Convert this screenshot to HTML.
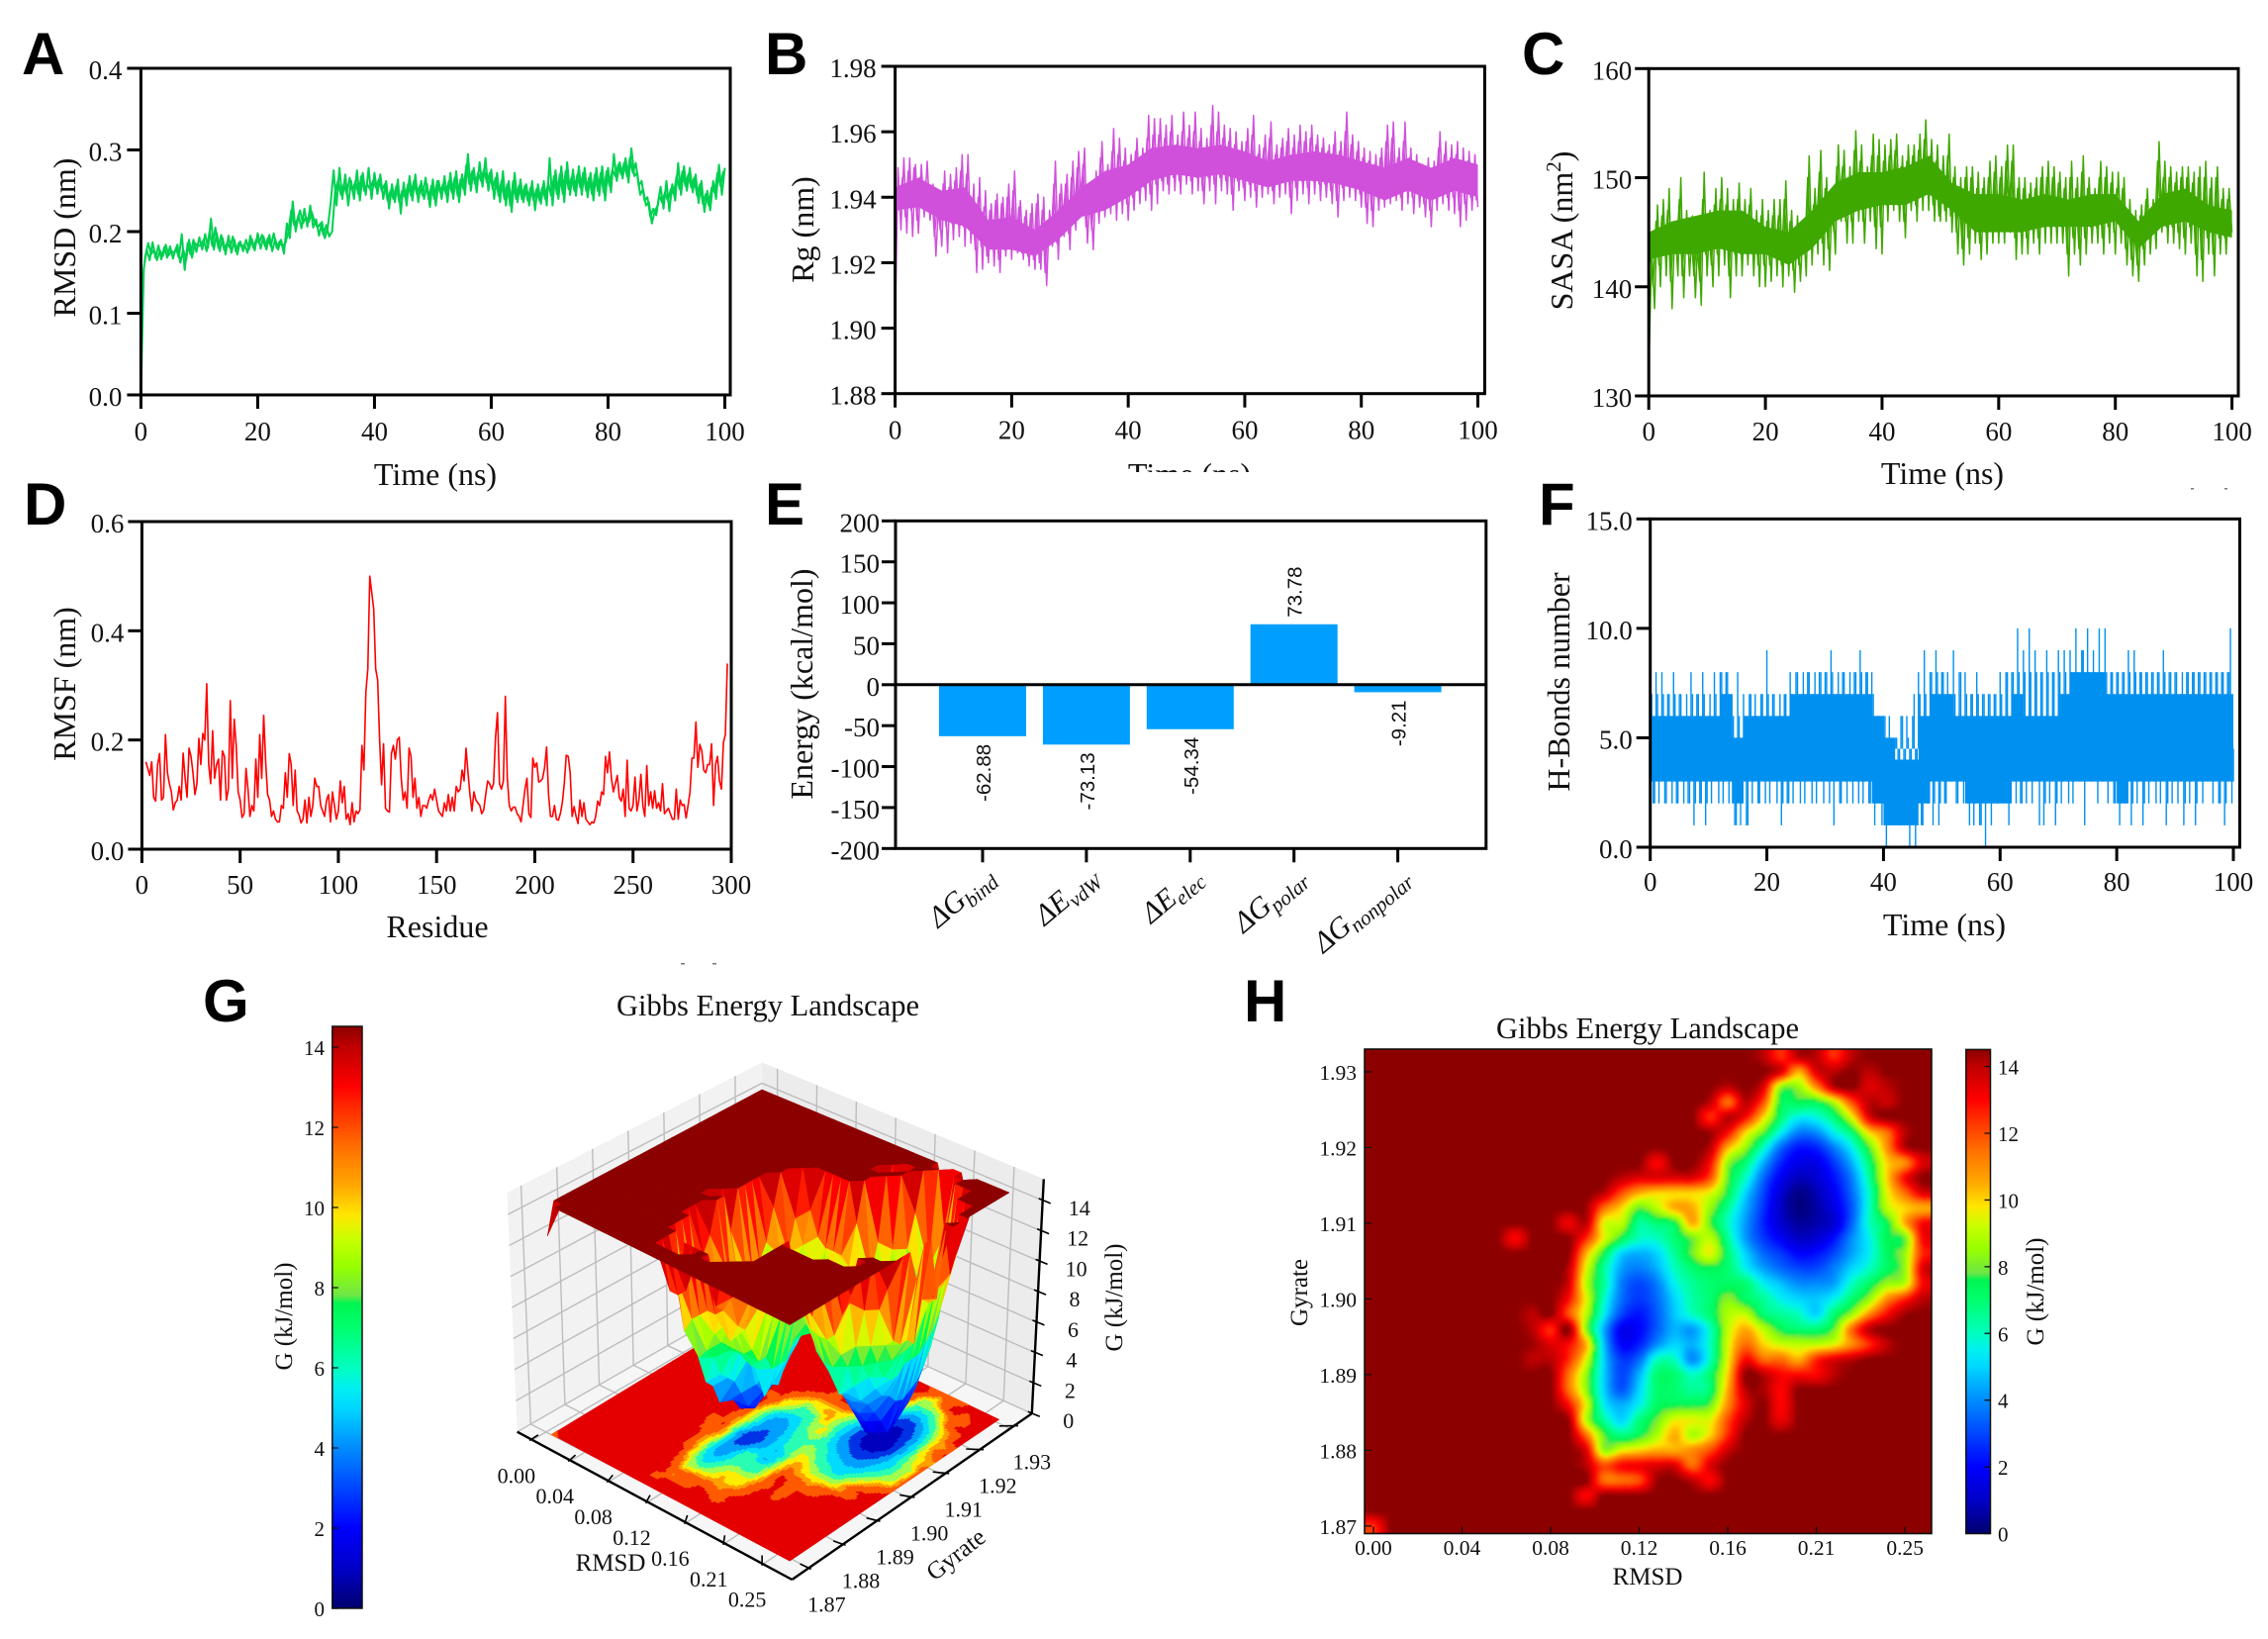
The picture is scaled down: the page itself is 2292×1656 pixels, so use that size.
<!DOCTYPE html>
<html lang="en">
<head>
<meta charset="utf-8">
<title>Molecular dynamics analysis figure</title>
<style>
html,body{margin:0;padding:0;background:#fff;}
svg{display:block;}
text{font-family:"Liberation Serif",serif;fill:#111;}
.letter{font-family:"Liberation Sans",sans-serif;font-weight:700;font-size:60px;fill:#000;}
.title{font-size:32px;text-anchor:middle;}
.mid{font-size:25px;text-anchor:middle;}
.head{font-size:30.5px;text-anchor:middle;}
</style>
</head>
<body>
<svg id="figure" width="2292" height="1656" viewBox="0 0 2292 1656">
  <defs>
    <clipPath id="clip-b-title"><rect x="1100" y="450" width="220" height="27"/></clipPath>
    <clipPath id="clip-heat"><rect x="1379" y="1060" width="573" height="489.5"/></clipPath>
    <filter id="soften" x="-2%" y="-2%" width="104%" height="104%" color-interpolation-filters="sRGB"><feGaussianBlur stdDeviation="1.3"/></filter>
    <linearGradient id="jet-gradient" x1="0" y1="1" x2="0" y2="0"></linearGradient>
  </defs>
  <rect width="2292" height="1656" fill="#fff"/>

  <g id="panel-a">
    <text class="letter" x="22" y="75">A</text>
    <text class="title" x="440" y="490">Time (ns)</text>
    <text class="title" x="76" y="240" transform="rotate(-90 76 240)">RMSD (nm)</text>
  </g>
  <g id="panel-b">
    <text class="letter" x="773" y="75">B</text>
    <g clip-path="url(#clip-b-title)"><text class="title" x="1202" y="490">Time (ns)</text></g>
    <text class="title" x="822" y="232" transform="rotate(-90 822 232)">Rg (nm)</text>
  </g>
  <g id="panel-c">
    <text class="letter" x="1538" y="75">C</text>
    <text class="title" x="1963" y="489">Time (ns)</text>
    <text class="title" x="1589" y="233" transform="rotate(-90 1589 233)">SASA (nm<tspan font-size="21" dy="-12">2</tspan><tspan dy="12">)</tspan></text>
  </g>
  <g id="panel-d">
    <text class="letter" x="24" y="530">D</text>
    <text class="title" x="442" y="947">Residue</text>
    <text class="title" x="76" y="691" transform="rotate(-90 76 691)">RMSF (nm)</text>
  </g>
  <g id="panel-e">
    <text class="letter" x="773" y="530">E</text>
    <text class="title" x="821" y="691" transform="rotate(-90 821 691)">Energy (kcal/mol)</text>
  </g>
  <g id="panel-f">
    <text class="letter" x="1555" y="530">F</text>
    <text class="title" x="1965" y="945">Time (ns)</text>
    <text class="title" x="1586" y="689" transform="rotate(-90 1586 689)">H-Bonds number</text>
  </g>
  <g id="panel-g">
    <text class="letter" x="205" y="1032">G</text>
    <text class="head" x="776" y="1026">Gibbs Energy Landscape</text>
    <text class="mid" x="295" y="1330" transform="rotate(-90 295 1330)">G (kJ/mol)</text>
  </g>
  <g id="panel-h">
    <text class="letter" x="1257" y="1032">H</text>
    <text class="head" x="1665" y="1049">Gibbs Energy Landscape</text>
    <text class="mid" x="1665" y="1601">RMSD</text>
    <text class="mid" x="1321" y="1306" transform="rotate(-90 1321 1306)">Gyrate</text>
    <text class="mid" x="2065" y="1305" transform="rotate(-90 2065 1305)">G (kJ/mol)</text>
  </g>
  <rect x="2214" y="493" width="3" height="1.5" fill="#777"/>
  <rect x="2248" y="493" width="3" height="1.5" fill="#777"/>
  <rect x="688" y="973" width="4" height="1.5" fill="#777"/>
  <rect x="720" y="973" width="4" height="1.5" fill="#777"/>
</svg>

<script>
/* ---------- data ---------- */
const timeTicks = [0, 20, 40, 60, 80, 100];
const sampleStepNs = 0.5;
const fineOffsetNs = 0.25;
const coreStepNs = 4;
const hbondCoreStepNs = 2;

const rmsdTicks = [0, 0.1, 0.2, 0.3, 0.4];
const rmsdTickLabels = ['0.0', '0.1', '0.2', '0.3', '0.4'];
const rmsdValues = [
0,.155,.178,.165,.187,.168,.183,.166,.181,.168,
.182,.167,.180,.168,.197,.153,.186,.172,.190,.175,
.193,.178,.197,.180,.216,.178,.198,.176,.192,.172,
.195,.174,.190,.172,.188,.176,.190,.178,.191,.177,
.198,.179,.194,.178,.196,.176,.191,.178,.190,.173,
.210,.192,.237,.200,.220,.204,.228,.206,.232,.205,
.215,.195,.212,.192,.205,.235,.275,.232,.278,.240,
.270,.232,.262,.240,.275,.238,.272,.245,.278,.240,
.272,.246,.270,.240,.262,.228,.258,.236,.264,.222,
.260,.232,.268,.238,.270,.236,.262,.240,.258,.230,
.264,.232,.262,.240,.268,.236,.272,.240,.274,.236,
.270,.245,.295,.250,.278,.248,.285,.255,.290,.250,
.276,.240,.272,.236,.274,.232,.262,.224,.272,.236,
.264,.236,.258,.232,.262,.226,.258,.234,.262,.232,
.290,.232,.275,.240,.280,.236,.285,.245,.276,.244,
.280,.245,.278,.242,.272,.238,.278,.244,.280,.238,
.278,.248,.295,.262,.285,.265,.290,.260,.302,.268,
.272,.245,.252,.232,.236,.210,.225,.232,.255,.228,
.262,.225,.258,.238,.284,.245,.280,.250,.278,.248,
.270,.235,.262,.224,.250,.226,.262,.240,.282,.245,
.278];
const rmsdFineValues = [
.140,.170,.186,.172,.178,.165,.177,.170,.184,.171,
.176,.174,.184,.162,.178,.165,.190,.168,.186,.182,
.184,.190,.176,.200,.182,.205,.180,.196,.178,.186,
.180,.194,.176,.186,.182,.184,.174,.195,.180,.190,
.186,.196,.182,.192,.182,.198,.180,.188,.182,.186,
.200,.226,.208,.214,.226,.210,.218,.212,.224,.212,
.205,.210,.196,.208,.194,.200,.248,.262,.245,.258,
.246,.266,.250,.262,.246,.268,.250,.258,.252,.262,
.254,.264,.250,.258,.238,.250,.240,.256,.236,.250,
.242,.258,.244,.262,.246,.256,.244,.266,.240,.256,
.240,.262,.248,.258,.246,.262,.248,.266,.244,.264,
.252,.282,.258,.274,.258,.272,.262,.276,.260,.272,
.252,.266,.244,.262,.240,.258,.232,.262,.240,.256,
.240,.256,.238,.254,.238,.252,.238,.254,.240,.260,
.244,.268,.246,.270,.246,.274,.252,.266,.250,.270,
.254,.272,.250,.266,.246,.270,.250,.272,.248,.274,
.256,.276,.268,.282,.270,.284,.268,.290,.272,.284,
.256,.262,.238,.242,.218,.228,.220,.244,.236,.248,
.238,.252,.246,.268,.252,.274,.256,.270,.254,.266,
.244,.258,.234,.246,.232,.254,.248,.272,.256,.274];

const rgTicks = [1.88, 1.90, 1.92, 1.94, 1.96, 1.98];
const rgTickLabels = ['1.88', '1.90', '1.92', '1.94', '1.96', '1.98'];
const rgCoreTop = [1.943,1.946,1.942,1.943,1.933,1.934,1.930,1.936,1.943,1.948,1.950,1.955,1.956,1.955,1.956,1.954,1.951,1.953,1.954,1.953,1.951,1.949,1.952,1.949,1.952,1.950];
const rgCoreBottom = [1.936,1.937,1.933,1.931,1.924,1.924,1.922,1.927,1.934,1.936,1.940,1.945,1.947,1.946,1.947,1.945,1.943,1.945,1.945,1.944,1.942,1.939,1.942,1.939,1.942,1.940];
const rgValues = [
1.902,1.949,1.930,1.952,1.929,1.952,1.928,1.950,1.929,1.950,
1.934,1.951,1.933,1.944,1.922,1.940,1.925,1.948,1.923,1.947,
1.927,1.949,1.928,1.953,1.925,1.953,1.926,1.944,1.917,1.946,
1.918,1.942,1.920,1.938,1.919,1.941,1.917,1.940,1.922,1.944,
1.921,1.948,1.923,1.939,1.921,1.936,1.919,1.938,1.918,1.941,
1.918,1.940,1.913,1.936,1.925,1.951,1.921,1.944,1.928,1.947,
1.924,1.951,1.930,1.954,1.935,1.955,1.926,1.944,1.924,1.948,
1.932,1.957,1.934,1.950,1.935,1.961,1.933,1.958,1.935,1.955,
1.933,1.953,1.936,1.958,1.938,1.955,1.939,1.965,1.936,1.964,
1.938,1.964,1.942,1.962,1.941,1.965,1.942,1.959,1.941,1.966,
1.944,1.962,1.941,1.966,1.942,1.961,1.938,1.958,1.942,1.968,
1.938,1.966,1.942,1.962,1.941,1.961,1.936,1.960,1.942,1.957,
1.939,1.961,1.940,1.965,1.937,1.956,1.940,1.959,1.941,1.963,
1.938,1.956,1.940,1.958,1.941,1.961,1.935,1.959,1.939,1.962,
1.941,1.960,1.938,1.962,1.941,1.959,1.939,1.958,1.940,1.956,
1.938,1.960,1.934,1.957,1.939,1.966,1.940,1.959,1.939,1.957,
1.937,1.955,1.932,1.954,1.931,1.953,1.936,1.955,1.937,1.962,
1.938,1.963,1.939,1.955,1.936,1.963,1.938,1.955,1.935,1.953,
1.937,1.950,1.934,1.952,1.931,1.951,1.936,1.960,1.938,1.957,
1.936,1.956,1.935,1.957,1.931,1.955,1.933,1.954,1.936,1.953,
1.937];
const rgFineValues = [
1.938,1.936,1.946,1.934,1.948,1.936,1.949,1.933,1.946,1.937,
1.945,1.938,1.943,1.928,1.938,1.930,1.944,1.931,1.943,1.932,
1.945,1.934,1.948,1.931,1.947,1.930,1.939,1.924,1.940,1.925,
1.937,1.922,1.936,1.925,1.939,1.921,1.938,1.924,1.940,1.926,
1.942,1.925,1.937,1.923,1.934,1.922,1.935,1.921,1.938,1.920,
1.936,1.917,1.933,1.927,1.944,1.926,1.941,1.931,1.944,1.929,
1.946,1.933,1.949,1.937,1.950,1.931,1.941,1.930,1.944,1.936,
1.952,1.938,1.948,1.939,1.954,1.938,1.953,1.939,1.951,1.938,
1.950,1.940,1.954,1.942,1.951,1.943,1.958,1.941,1.959,1.944,
1.959,1.945,1.958,1.944,1.960,1.946,1.956,1.945,1.960,1.947,
1.958,1.945,1.960,1.946,1.957,1.942,1.955,1.946,1.962,1.944,
1.960,1.946,1.958,1.945,1.957,1.941,1.956,1.945,1.954,1.943,
1.957,1.944,1.959,1.942,1.953,1.944,1.955,1.945,1.958,1.942,
1.953,1.944,1.955,1.945,1.957,1.940,1.955,1.943,1.957,1.945,
1.957,1.943,1.958,1.945,1.956,1.944,1.955,1.944,1.954,1.942,
1.956,1.939,1.954,1.943,1.960,1.944,1.956,1.943,1.954,1.941,
1.952,1.937,1.951,1.936,1.950,1.940,1.952,1.941,1.957,1.942,
1.958,1.943,1.952,1.940,1.957,1.942,1.952,1.940,1.950,1.941,
1.948,1.938,1.949,1.936,1.948,1.940,1.955,1.942,1.953,1.940,
1.952,1.940,1.953,1.936,1.951,1.938,1.951,1.940,1.950,1.939];

const sasaTicks = [130, 140, 150, 160];
const sasaTickLabels = ['130', '140', '150', '160'];
const sasaCoreTop = [145,146,146.5,147,147,145.5,145,147,149.5,150.5,150.5,151,152,149.5,148.5,148.5,148,148.5,148,148.5,148.5,146,148.5,149,147.5,147];
const sasaCoreBottom = [142.5,143,143,143.5,143,143,142,143.5,146,147,147.5,147.5,148.5,147,145,145,145,145.5,145.5,145.5,146,143.5,145.5,146,145,144.5];
const sasaValues = [
132,143.5,138,147.5,140,148,141,149,138,146,
141,150,139,147,141,146.5,139,146,138.3,150.5,
141,147,140,149,141,150,142,149,139,148,
141,149.5,141,148,142,149,141,147,140,148,
140,147,140.5,148,141,148,140,149.7,141,147,
139.5,146.5,140.5,146,141,152,142,149,143,152.5,
142,150,141.5,149,143,153,146,152.5,144,151,
144,154.3,146,153,144,151,146,154,143.5,153.5,
143,153,146,153.5,147,154,146,152,144.5,153,
147,153,146,154,147,155.3,147,153.5,146,153,
146,152,146,154,145,151,143,150,142,151,
143,151,144,150.5,142.5,150,143,151.5,144,152,
144,151,144,153,145,153,142.5,150,143,150,
143,149.5,144,150,143,151,144,151.5,144,151,
144,150.5,144,150,141,151.5,143,150,142,152,
143,150,144,149,144,151.5,143,151,144,150.5,
143,150.5,144,150,142,148,141,147,140.5,147.5,
142,149,143,148,143.5,153.3,145,151.5,144,151,
144,150.5,143.5,151,143,151,144,150.5,141,151,
140.5,151.5,143,150,141,151,143,149,143,149,
145];
const sasaFineValues = [
143,140,146,142,146.5,143,147,140.5,145,143,
148,141,146,143,145,141,144.5,140.5,148,143,
145.5,142,147.5,143,148,144,147.5,141,146.5,143,
148,143,146.5,144,147.5,143,146,142,146.5,142,
146,142,146.5,143,146.5,142,148,143,146,141.5,
145.5,142,145,143,150,144,147.5,145,150.5,144,
149,143.5,148,145,151,148,151,146,150,146,
152.5,147.5,151.5,146,150,148,152,145.5,152,145.5,
151.5,147.5,152,148.5,152.5,147.5,151,146,151.5,148,
152,147.5,152.5,148.5,153.5,148.5,152,147.5,151.5,146.5,
150.5,147,152,146.5,150,145,149,143.5,150,144.5,
150,145.5,149,144,149,145,150,145.5,150.5,145.5,
150,145.5,151.5,146.5,151.5,144.5,149,145,149,144.5,
148.5,145.5,149,144.5,150,145.5,150,145.5,150,145.5,
149.5,145.5,149,143,150,144.5,149,143.5,150.5,144.5,
149,145.5,148,145.5,150,144.5,150,145.5,149.5,145,
149,145.5,149,143.5,147,142.5,146,142,146.5,143.5,
148,144.5,147,145,151.5,146.5,150,145.5,150,145.5,
149.5,145,150,144.5,150,145.5,149.5,143,150,142.5,
150,144.5,149,143,150,144.5,148,144.5,148,146];

const residueTicks = [0, 50, 100, 150, 200, 250, 300];
const rmsfTicks = [0, 0.2, 0.4, 0.6];
const rmsfTickLabels = ['0.0', '0.2', '0.4', '0.6'];
const firstResidue = 2;
const rmsfValues = [
.16,.148,.135,.16,.095,.088,.155,.175,.09,.095,
.21,.14,.12,.105,.072,.085,.09,.115,.09,.176,
.13,.095,.185,.17,.14,.10,.12,.203,.155,.212,
.20,.303,.155,.12,.217,.13,.155,.165,.09,.18,
.17,.09,.11,.272,.13,.238,.19,.105,.09,.058,
.065,.148,.11,.06,.08,.07,.165,.095,.21,.13,
.245,.16,.10,.09,.06,.07,.055,.05,.05,.08,
.075,.14,.095,.175,.155,.08,.145,.07,.063,.048,
.055,.09,.048,.095,.06,.08,.13,.115,.115,.08,
.07,.06,.09,.1,.05,.105,.08,.055,.07,.125,
.085,.115,.055,.065,.045,.085,.05,.07,.065,.072,
.19,.145,.287,.33,.50,.47,.44,.33,.31,.2,
.118,.193,.075,.07,.068,.175,.19,.165,.2,.205,
.13,.09,.105,.075,.185,.17,.095,.13,.075,.095,
.06,.08,.08,.075,.09,.1,.09,.11,.09,.07,
.065,.06,.085,.07,.1,.07,.095,.07,.115,.105,
.11,.145,.125,.185,.14,.1,.07,.105,.09,.085,
.08,.065,.072,.1,.125,.12,.11,.12,.205,.25,
.12,.11,.125,.28,.13,.08,.07,.077,.077,.065,
.06,.05,.08,.11,.13,.065,.058,.167,.15,.158,
.123,.125,.13,.15,.187,.10,.06,.06,.08,.055,
.053,.065,.085,.12,.172,.17,.14,.06,.078,.06,
.047,.09,.06,.085,.055,.05,.045,.05,.048,.06,
.088,.08,.105,.1,.17,.14,.178,.13,.105,.12,
.135,.095,.088,.11,.06,.163,.075,.07,.08,.132,
.07,.09,.137,.08,.06,.153,.08,.105,.075,.107,
.075,.085,.07,.12,.065,.07,.075,.065,.055,.055,
.11,.055,.09,.08,.082,.057,.08,.105,.167,.167,
.233,.15,.192,.18,.145,.14,.155,.155,.193,.08,
.155,.17,.125,.11,.195,.21,.34];

const energyTicks = [-200, -150, -100, -50, 0, 50, 100, 150, 200];
const energyValues = [-62.88, -73.13, -54.34, 73.78, -9.21];
const energySymbols = ['G', 'E', 'E', 'G', 'G'];
const energySubscripts = ['bind', 'vdW', 'elec', 'polar', 'nonpolar'];

const hbondTicks = [0, 5, 10, 15];
const hbondTickLabels = ['0.0', '5.0', '10.0', '15.0'];
const hbondBandCentre = 4.5;
const hbondCoreHigh = [6,6,6,6,6,6,7,5,6,6,6,6,7,7,7,7,7,7,7,6,5,4,4,6,7,7,6,6,6,6,6,7,6,6,6,7,8,8,8,7,7,7,7,7,7,7,7,7,7,7,7];
const hbondCoreLow = [3,3,3,3,3,3,3,2,3,3,3,3,3,3,3,3,3,3,3,2,1,1,1,2,3,3,3,2,2,2,2,3,3,3,3,3,3,3,3,3,2,3,3,3,3,3,3,3,3,3,3];
const hbondValues = [
7,2,8,2,8,2,7,3,8,2,
7,3,6,2,8,1,7,2,8,1,
6,2,8,3,8,2,8,2,7,1,
8,1,7,1,7,2,7,2,7,3,
9,2,7,3,6,1,7,2,8,2,
8,3,7,2,8,3,7,2,8,3,
8,3,9,1,7,2,8,3,7,3,
8,3,9,2,8,2,8,1,6,2,
6,0,6,1,5,2,6,2,6,0,
6,0,8,1,9,2,8,1,9,1,
8,2,8,3,9,2,8,3,8,2,
7,1,8,1,7,0,7,1,7,2,
8,2,8,1,8,3,10,2,9,2,
10,2,9,3,8,1,9,2,8,1,
9,2,9,3,9,2,10,3,9,1,
10,3,9,3,10,3,10,2,8,2,
8,1,8,2,9,1,9,2,8,1,
8,2,8,3,8,2,9,1,8,2,
8,2,7,1,8,2,8,1,8,3,
8,3,8,2,8,2,8,1,8,10,
3];
const hbondFineValues = [
7,2,7,3,7,2,7,2,7,2,
7,2,7,2,7,2,7,2,7,2,
7,3,7,2,8,3,8,3,6,1,
6,2,6,1,7,3,6,2,7,2,
7,3,7,2,7,2,7,2,7,3,
8,2,8,3,8,2,8,3,8,2,
8,2,8,3,8,2,8,2,8,2,
8,2,8,3,8,2,7,2,6,1,
6,1,5,1,5,1,6,1,5,1,
7,1,7,1,7,2,8,2,8,2,
8,2,7,3,7,2,8,2,7,1,
7,2,7,1,7,2,7,2,7,2,
7,3,8,2,8,2,8,2,8,3,
8,3,8,1,8,2,8,3,8,2,
8,3,8,2,8,3,8,3,9,3,
8,3,8,2,8,3,8,3,8,2,
8,2,8,3,8,2,8,3,8,2,
8,3,8,2,8,3,8,2,8,3,
8,3,8,2,8,3,8,2,8,2,
8,3,8,3,8,2,8,2,8,2];

/* Gibbs free-energy grid, 32 rows (Gyrate 1.93 side at the top) x 32 columns (RMSD increasing) */
const gibbsGrid = [
[15,15,15,15,15,15,15,15,15,15,15,15,15,15,15,15,15,15,15,15,15,15,14,12.5,14,14,12.5,14,15,15,15,15],
[15,15,15,15,15,15,15,15,15,15,15,15,15,15,15,15,15,15,15,15,15,15,14.5,13.5,10.5,13.5,14,15,14,15,15,15],
[15,15,15,15,15,15,15,15,15,15,15,15,15,15,15,15,15,15,15,15,14,14.5,13.5,8.5,8.5,11,14,15,13.5,14,15,15],
[15,15,15,15,15,15,15,15,15,15,15,15,15,15,15,15,15,15,15,14,11.5,14,12,7.5,7.5,7.5,9,12,14,13.8,15,15],
[15,15,15,15,15,15,15,15,15,15,15,15,15,15,15,15,15,15,14.5,12.5,14,13,10,7,5.5,5.7,7,9.5,13.5,14.5,15,15],
[15,15,15,15,15,15,15,15,15,15,15,15,15,15,15,15,15,15,15,14.3,13,10,8,5.5,3.8,4,5.5,7,10,11.5,14,15],
[15,15,15,15,15,15,15,15,15,15,15,15,15,15,15,15,15,15,15,14,10.5,8.5,6,3.5,2.3,2.5,3.8,5.5,8,11,14,15],
[15,15,15,15,15,15,15,15,15,15,15,15,15,15,15,15,13,15,14.5,13,8.5,7,4.5,2.5,1.6,1.6,2.8,4.5,7,10,11,13.5],
[15,15,15,15,15,15,15,15,15,15,15,15,15,15,14,13.5,13.5,13.5,13.5,12,8,6,3.5,1.8,.9,1.2,2.2,3.8,6.5,10,13,14.5],
[15,15,15,15,15,15,15,15,15,15,15,15,15,14,12,10.5,10,10,10,9.5,7.5,5,3,1.2,.3,.8,1.8,3.5,6,9.5,11.5,13.5],
[15,15,15,15,15,15,15,15,15,15,15,15,14.3,11.5,10,8,9,10.5,10.5,8.5,6.5,4.5,2.7,1,.2,.6,1.5,3.2,6,9,10,10.5],
[15,15,15,15,15,15,15,15,15,15,15,13.2,14,9.5,9,6.5,7,7.5,10.5,8,6,4.2,2.5,1.2,.5,.7,1.2,3.4,6,7.5,10.5,13],
[15,15,15,15,15,15,15,15,13,15,15,14.5,12.5,9.5,7.5,6,6,7,8,9,6.5,4.2,2.8,1.8,1,1.2,2.2,4,5.5,7.5,8,13],
[15,15,15,15,15,15,15,15,15,15,15,14.5,10.5,7.5,5,4.5,5,6.5,8,9.5,7,5,3.5,2.8,2,2.2,3,4.3,5.5,7.3,8.5,12.5],
[15,15,15,15,15,15,15,15,15,15,15,14,9.5,6.5,4.3,3.8,4.5,6,7,7.5,7,5.5,4.3,3.5,3,3,3.8,5,6,7.3,8.5,13.5],
[15,15,15,15,15,15,15,15,15,15,15,13.7,9,6.5,3.8,3,3.8,5.5,6.5,7,7.2,7,5.5,4.7,4,4,4.3,6,7.2,8.5,9,13],
[15,15,15,15,15,15,15,15,15,15,15,13,9.5,6,3.6,2.8,3.5,5,6.3,7,8.2,7.2,6.5,5.5,5,4.8,5.5,7,8.5,11,12.5,14],
[15,15,15,15,15,15,15,15,15,14,14.5,12,9,5.5,3,2.3,3.3,4.8,6,7,8.8,9,7,6.5,6,5,7,8.5,11,13,14.3,15],
[15,15,15,15,15,15,15,15,15,14,12.5,15,8.5,4.5,1.8,2,3.3,4.5,4.2,6,9,10.5,9,7.5,7,7,8,11.5,14,15,15,15],
[15,15,15,15,15,15,15,15,15,14.3,13.5,13,10.5,4.8,2,2.4,4,5,4.5,6,9.3,11.5,10,9.2,9,9,9.5,11,12.5,14,15,15],
[15,15,15,15,15,15,15,15,15,14,14,12.5,9.5,5,2.8,3.5,6,6,4,6,9.5,13,11.5,11.5,10.5,12.5,13.5,14,15,15,15,15],
[15,15,15,15,15,15,15,15,15,15,15,11.5,8.5,5,3,4.5,7,7,6,7,10,14.5,14,13,13,13,14,15,15,15,15,15],
[15,15,15,15,15,15,15,15,15,15,14.5,11.5,8.5,5,3.2,5,7,7,6.5,7,10.5,14,14.2,13,14.5,15,15,15,15,15,15,15],
[15,15,15,15,15,15,15,15,15,15,15,13,9.5,5.5,4.5,5.5,7.2,7.5,7.5,8,11,13.5,14.5,13,14.5,15,15,15,15,15,15,15],
[15,15,15,15,15,15,15,15,15,15,15,14.3,9,6.5,5,6.8,8,9.5,9.5,9.5,12,14,15,13.3,15,15,15,15,15,15,15,15],
[15,15,15,15,15,15,15,15,15,15,15,15,11.5,8,6.8,7.5,8.8,10.5,8.8,10,12.5,14.5,15,15,15,15,15,15,15,15,15,15],
[15,15,15,15,15,15,15,15,15,15,15,15,13.5,8.5,9.5,10,10.5,10.5,11,12,13.8,15,15,15,15,15,15,15,15,15,15,15],
[15,15,15,15,15,15,15,15,15,15,15,15,14,12,13,13.2,13.5,13.5,11.5,13.5,15,15,15,15,15,15,15,15,15,15,15,15],
[15,15,15,15,15,15,15,15,15,15,15,15,15,11.5,11.5,12,14.3,15,14,13,15,15,15,15,15,15,15,15,15,15,15,15],
[15,15,15,15,15,15,15,15,15,15,15,15,13,15,15,15,15,15,15,15,15,15,15,15,15,15,15,15,15,15,15,15],
[15,15,15,15,15,15,15,15,15,15,15,15,15,15,15,15,15,15,15,15,15,15,15,15,15,15,15,15,15,15,15,15],
[12.5,15,15,15,15,15,15,15,15,15,15,15,15,15,15,15,15,15,15,15,15,15,15,15,15,15,15,15,15,15,15,15]
];
const gibbsMax = 14.5;
const surfaceCapLevel = 12.6;
const colorbarTicks = [0, 2, 4, 6, 8, 10, 12, 14];
const landscapeRmsdLabels = ['0.00', '0.04', '0.08', '0.12', '0.16', '0.21', '0.25'];
const landscapeGyrateLabels = ['1.87', '1.88', '1.89', '1.90', '1.91', '1.92', '1.93'];
const landscapeRmsdColumns = [0, 5, 10, 15, 20, 25, 30];
const landscapeGyrateRows = [31, 26, 21, 16, 11, 6, 1];
const colormapLevels = [0,1,2,3,4,5,5.5,6,7,7.6,7.8,8.5,9.2,9.8,10.5,11.5,12.5,13,14,14.5];
const colormapColors = [[0,0,110],[0,0,200],[0,0,255],[0,70,255],[0,140,255],[0,215,255],[0,240,240],[0,255,190],[0,255,110],[0,245,80],[110,230,70],[150,255,0],[200,255,0],[255,230,0],[255,170,0],[255,110,0],[255,40,0],[255,0,0],[190,0,0],[140,0,0]];
const floorBinColors = ['#0000be','#0032e6','#00a0ff','#00dcff','#28ffb4','#a0ff50','#ffee00','#ffa000','#ff5a00','#e40000'];

/* ---------- helpers ---------- */
const figure = document.getElementById('figure');
const svgNS = figure.namespaceURI;

function el(tag, attrs, parent) {
  const node = document.createElementNS(svgNS, tag);
  for (const key in attrs) node.setAttribute(key, attrs[key]);
  parent.appendChild(node);
  return node;
}
function scale(d0, d1, p0, p1) {
  return v => p0 + (v - d0) * (p1 - p0) / (d1 - d0);
}
function energyColor(value) {
  const v = Math.max(0, Math.min(gibbsMax, value));
  let k = 0;
  while (k < colormapLevels.length - 2 && v > colormapLevels[k + 1]) k++;
  const f = (v - colormapLevels[k]) / (colormapLevels[k + 1] - colormapLevels[k]);
  const a = colormapColors[k], b = colormapColors[k + 1];
  return 'rgb(' + Math.round(a[0] + (b[0] - a[0]) * f) + ',' + Math.round(a[1] + (b[1] - a[1]) * f) + ',' + Math.round(a[2] + (b[2] - a[2]) * f) + ')';
}

function drawFrame(g, box, xTickPositions, xLabels, yTickPositions, yLabels, labelGap, xBase) {
  const frame = el('rect', {x: box.l, y: box.t, width: box.r - box.l, height: box.b - box.t, fill: 'none', stroke: '#000', 'stroke-width': 3}, g);
  
  
  yTickPositions.forEach((py, k) => {
    const tick = el('line', {x1: box.l - 14, x2: box.l, y1: py, y2: py, stroke: '#000', 'stroke-width': 3}, g);
    
    
    const label = el('text', {x: box.l - labelGap, y: py + 11, 'text-anchor': 'end', 'font-size': 27}, g);
    
    
    label.textContent = yLabels[k];
  });
  xTickPositions.forEach((px, k) => {
    const tick = el('line', {x1: px, x2: px, y1: box.b, y2: box.b + 14, stroke: '#000', 'stroke-width': 3}, g);
    
    
    if (xLabels) {
      const label = el('text', {x: px, y: box.b + xBase, 'text-anchor': 'middle', 'font-size': 27}, g);
      
      
      label.textContent = xLabels[k];
    }
  });
}
function drawSeries(g, points, color, width, name) {
  const line = el('polyline', {points: points.join(' '), fill: 'none', stroke: color, 'stroke-width': width, 'stroke-linejoin': 'round'}, g);
  
  
  return line;
}

/* ---------- panel A ---------- */
const boxA = {l: 142.4, r: 738, t: 69, b: 399};
const xA = scale(0, 100, 142.4, 732.5);
const yA = scale(0, 0.4, 399, 69);
const panelA = document.getElementById('panel-a');
drawSeries(panelA, rmsdValues.map((v, i) => xA(i * sampleStepNs) + ',' + yA(v)), '#00d050', 2, 'rmsd-line');
drawSeries(panelA, rmsdFineValues.map((v, i) => xA(fineOffsetNs + i * sampleStepNs) + ',' + yA(v)), '#00d050', 2, 'rmsd-fine-line');
drawFrame(panelA, boxA, timeTicks.map(xA), timeTicks.map(String), rmsdTicks.map(yA), rmsdTickLabels, 19, 46);

/* ---------- panel B ---------- */
const boxB = {l: 904.6, r: 1500.4, t: 67, b: 397.7};
const xB = scale(0, 100, 904.6, 1493.5);
const yB = scale(1.88, 1.98, 397.7, 67);
const panelB = document.getElementById('panel-b');
const rgBand = el('polygon', {
  points: rgCoreTop.map((v, i) => xB(i * coreStepNs) + ',' + yB(v)).concat(
          rgCoreBottom.map((v, i) => xB(i * coreStepNs) + ',' + yB(v)).reverse()).join(' '),
  fill: '#d050dc'}, panelB);


drawSeries(panelB, rgValues.map((v, i) => xB(i * sampleStepNs) + ',' + yB(v)), '#d050dc', 1.5, 'rg-line');
drawSeries(panelB, rgFineValues.map((v, i) => xB(fineOffsetNs + i * sampleStepNs) + ',' + yB(v)), '#d050dc', 1.5, 'rg-fine-line');
drawFrame(panelB, boxB, timeTicks.map(xB), timeTicks.map(String), rgTicks.map(yB), rgTickLabels, 19, 46);

/* ---------- panel C ---------- */
const boxC = {l: 1666.2, r: 2262, t: 69.3, b: 400};
const xC = scale(0, 100, 1666.2, 2255.6);
const yC = scale(130, 160, 400, 69.3);
const panelC = document.getElementById('panel-c');
const sasaBand = el('polygon', {
  points: sasaCoreTop.map((v, i) => xC(i * coreStepNs) + ',' + yC(v)).concat(
          sasaCoreBottom.map((v, i) => xC(i * coreStepNs) + ',' + yC(v)).reverse()).join(' '),
  fill: '#3fa800'}, panelC);


drawSeries(panelC, sasaValues.map((v, i) => xC(i * sampleStepNs) + ',' + yC(v)), '#3fa800', 1.5, 'sasa-line');
drawSeries(panelC, sasaFineValues.map((v, i) => xC(fineOffsetNs + i * sampleStepNs) + ',' + yC(v)), '#3fa800', 1.5, 'sasa-fine-line');
drawFrame(panelC, boxC, timeTicks.map(xC), timeTicks.map(String), sasaTicks.map(yC), sasaTickLabels, 17, 45);

/* ---------- panel D ---------- */
const boxD = {l: 143.4, r: 739, t: 527, b: 858};
const xD = scale(0, 300, 143.4, 739);
const yD = scale(0, 0.6, 858, 527);
const panelD = document.getElementById('panel-d');
drawSeries(panelD, rmsfValues.map((v, i) => xD(firstResidue + i) + ',' + yD(v)), '#ff0000', 1.6, 'rmsf-line');
drawFrame(panelD, boxD, residueTicks.map(xD), residueTicks.map(String), rmsfTicks.map(yD), rmsfTickLabels, 18, 45);

/* ---------- panel E ---------- */
const boxE = {l: 905, r: 1501.8, t: 526.3, b: 857.3};
const yE = scale(-200, 200, 857.3, 526.3);
const xE = i => 993 + i * 104.9;
const barWidth = 88;
const panelE = document.getElementById('panel-e');
energyValues.forEach((v, i) => {
  const bar = el('rect', {x: xE(i) - barWidth / 2, y: Math.min(yE(0), yE(v)), width: barWidth, height: Math.abs(yE(v) - yE(0)), fill: '#009fff'}, panelE);
  
  
  const px = xE(i) + 8;
  const py = v < 0 ? yE(v) + 8 : yE(v) - 7;
  const valueLabel = el('text', {x: px, y: py, 'text-anchor': v < 0 ? 'end' : 'start', 'font-size': 20.5, style: 'font-family:"Liberation Sans",sans-serif', transform: 'rotate(-90 ' + px + ' ' + py + ')'}, panelE);
  
  
  valueLabel.textContent = v.toFixed(2);
  const ax = xE(i) + 14;
  const ay = 889;
  const cat = el('text', {x: ax, y: ay, 'text-anchor': 'end', 'font-size': 30, 'font-style': 'italic', transform: 'rotate(-40 ' + ax + ' ' + ay + ')'}, panelE);
  
  
  cat.textContent = '\u0394' + energySymbols[i];
  const sub = el('tspan', {'font-size': 21, dy: 6}, cat);
  
  
  sub.textContent = energySubscripts[i];
});
const zeroLine = el('line', {x1: boxE.l, x2: boxE.r, y1: yE(0), y2: yE(0), stroke: '#000', 'stroke-width': 3}, panelE);


drawFrame(panelE, boxE, energyValues.map((v, i) => xE(i)), null, energyTicks.map(yE), energyTicks.map(String), 16, 0);

/* ---------- panel F ---------- */
const boxF = {l: 1667.7, r: 2263.5, t: 524.3, b: 856};
const xF = scale(0, 100, 1667.7, 2257);
const yF = scale(0, 15, 856, 524.3);
const panelF = document.getElementById('panel-f');
function stepPoints(values, step) {
  const pts = [];
  values.forEach((v, i) => {
    pts.push(xF(i * step) + ',' + yF(v));
    pts.push(xF(Math.min(100, (i + 1) * step)) + ',' + yF(v));
  });
  return pts;
}
const hbondBand = el('polygon', {points: stepPoints(hbondCoreHigh, hbondCoreStepNs).concat(stepPoints(hbondCoreLow, hbondCoreStepNs).reverse()).join(' '), fill: '#0090f0'}, panelF);


function hairPath(values, offset) {
  return values.map((v, i) => 'M' + xF(offset + i * sampleStepNs) + ' ' + yF(hbondBandCentre) + 'V' + yF(v)).join('');
}
const hbondHairs = el('path', {d: hairPath(hbondValues, 0), fill: 'none', stroke: '#0090f0', 'stroke-width': 1.4}, panelF);


const hbondFineHairs = el('path', {d: hairPath(hbondFineValues, fineOffsetNs), fill: 'none', stroke: '#0090f0', 'stroke-width': 1.4}, panelF);


drawFrame(panelF, boxF, timeTicks.map(xF), timeTicks.map(String), hbondTicks.map(yF), hbondTickLabels, 18, 44);

/* ---------- colorbars ---------- */
const gradient = document.getElementById('jet-gradient');
colormapLevels.forEach(v => {
  el('stop', {offset: v / gibbsMax, 'stop-color': energyColor(v)}, gradient);
});
function drawColorbar(g, x0, x1, yTop, yBottom, yOf, labelX, anchor, tickFromRight) {
  const bar = el('rect', {x: x0, y: yTop, width: x1 - x0, height: yBottom - yTop, fill: 'url(#jet-gradient)', stroke: '#111', 'stroke-width': 1.5}, g);
  
  
  colorbarTicks.forEach(v => {
    const a = tickFromRight ? x1 - 6 : x0;
    const b = tickFromRight ? x1 : x0 + 6;
    const tick = el('line', {x1: a, x2: b, y1: yOf(v), y2: yOf(v), stroke: '#111', 'stroke-width': 1.3}, g);
    
    
    const label = el('text', {x: labelX, y: yOf(v) + 8, 'text-anchor': anchor, 'font-size': 21}, g);
    
    
    label.textContent = String(v);
  });
}
const panelG = document.getElementById('panel-g');
const panelH = document.getElementById('panel-h');
drawColorbar(panelG, 335.8, 366, 1037, 1625, scale(0, 14, 1625, 1058), 328, 'end', false);
drawColorbar(panelH, 1986.8, 2011.5, 1060.4, 1549.5, scale(0, 14, 1549.5, 1077.6), 2019, 'start', true);

/* ---------- panel H heatmap ---------- */
const heat = {l: 1379, r: 1952, t: 1060, b: 1549.5};
const cellW = (heat.r - heat.l) / gibbsGrid[0].length;
const cellH = (heat.b - heat.t) / gibbsGrid.length;
const colPx = c => heat.l + (c + 0.5) * cellW;
const rowPx = r => heat.t + (r + 0.5) * cellH;
function gridAt(r, c) {
  const rr = Math.max(0, Math.min(gibbsGrid.length - 1, r));
  const cc = Math.max(0, Math.min(gibbsGrid[0].length - 1, c));
  return Math.min(gibbsMax, gibbsGrid[rr][cc]);
}
function cubic(p0, p1, p2, p3, t) {
  return p1 + 0.5 * t * (p2 - p0 + t * (2 * p0 - 5 * p1 + 4 * p2 - p3 + t * (3 * (p1 - p2) + p3 - p0)));
}
function sampleSmooth(rf, cf) {
  const r0 = Math.floor(rf), c0 = Math.floor(cf);
  const tr = rf - r0, tc = cf - c0;
  const rows = [];
  for (let k = -1; k <= 2; k++) {
    rows.push(cubic(gridAt(r0 + k, c0 - 1), gridAt(r0 + k, c0), gridAt(r0 + k, c0 + 1), gridAt(r0 + k, c0 + 2), tc));
  }
  return Math.max(0, Math.min(gibbsMax, cubic(rows[0], rows[1], rows[2], rows[3], tr)));
}
const heatClip = el('g', {'clip-path': 'url(#clip-heat)'}, panelH);


const heatCells = el('g', {filter: 'url(#soften)', 'shape-rendering': 'crispEdges'}, heatClip);


const subCell = 3;
for (let py = heat.t - 6; py < heat.b + 6; py += subCell) {
  let runStart = heat.l - 6, runColor = null;
  for (let px = heat.l - 6; px <= heat.r + 6; px += subCell) {
    const value = sampleSmooth((py + subCell / 2 - heat.t) / cellH - 0.5, (px + subCell / 2 - heat.l) / cellW - 0.5);
    const color = px > heat.r + 5 ? null : energyColor(Math.round(value * 12) / 12);
    if (color !== runColor) {
      if (runColor) {
        const cell = el('rect', {x: runStart, y: py, width: px - runStart, height: subCell, fill: runColor}, heatCells);
        
        
      }
      runStart = px;
      runColor = color;
    }
  }
}
const heatFrame = el('rect', {x: heat.l, y: heat.t, width: heat.r - heat.l, height: heat.b - heat.t, fill: 'none', stroke: '#111', 'stroke-width': 1.6}, panelH);


landscapeRmsdColumns.forEach((c, k) => {
  const tick = el('line', {x1: colPx(c), x2: colPx(c), y1: heat.b - 7, y2: heat.b, stroke: '#111', 'stroke-width': 1.3}, panelH);
  
  
  const label = el('text', {x: colPx(c), y: 1571, 'text-anchor': 'middle', 'font-size': 21.5}, panelH);
  
  
  label.textContent = landscapeRmsdLabels[k];
});
landscapeGyrateRows.forEach((r, k) => {
  const tick = el('line', {x1: heat.l, x2: heat.l + 7, y1: rowPx(r), y2: rowPx(r), stroke: '#111', 'stroke-width': 1.3}, panelH);
  
  
  const label = el('text', {x: 1371, y: rowPx(r) + 8, 'text-anchor': 'end', 'font-size': 21.5}, panelH);
  
  
  label.textContent = landscapeGyrateLabels[k];
});

/* ---------- panel G: 3D projection ---------- */
const plane = {
  floor: {L: [557, 1449.4], F: [798.1, 1577.5], R: [1010.2, 1434.1], B: [770, 1320]},
  top:   {L: [552.6, 1216.8], F: [798.1, 1338.6], R: [1020, 1205], B: [770, 1100.9]}
};
const cage = {
  floor: {L: [522.7, 1446.7], F: [800.4, 1596], R: [1042.8, 1428.2], B: [770, 1305]},
  top:   {L: [512.4, 1205], R: [1054.8, 1191.3], B: [770, 1073.4]}
};
function lerp(a, b, t) { return [a[0] + (b[0] - a[0]) * t, a[1] + (b[1] - a[1]) * t]; }
function onPlane(p, u, v) {
  const near = lerp(p.L, p.F, u);
  const far = lerp(p.B, p.R, u);
  return lerp(near, far, v);
}
function project(u, v, z) {
  return lerp(onPlane(plane.floor, u, v), onPlane(plane.top, u, v), z / gibbsMax);
}
const g3d = el('g', {}, panelG);


function poly(points, fill, stroke, width, name, parent) {
  const node = el('polygon', {points: points.map(p => p[0].toFixed(1) + ',' + p[1].toFixed(1)).join(' '), fill: fill, stroke: stroke, 'stroke-width': width}, parent);
  
  
  return node;
}
function seg(a, b, color, width, name, parent) {
  const node = el('line', {x1: a[0], y1: a[1], x2: b[0], y2: b[1], stroke: color, 'stroke-width': width}, parent);
  
  
  return node;
}
const cf = cage.floor, ct = cage.top;
poly([cf.L, ct.L, ct.B, cf.B], '#f2f2f2', 'none', 0, 'left-wall', g3d);
poly([cf.B, ct.B, ct.R, cf.R], '#ececec', 'none', 0, 'right-wall', g3d);
poly([cf.L, cf.F, cf.R, cf.B], '#f6f6f6', 'none', 0, 'floor-pane', g3d);
const zAxisTop = 15.4;
const gridColor = '#bdbdbd';
colorbarTicks.forEach(z => {
  const t = z / zAxisTop;
  const a = lerp(cf.L, ct.L, t), b = lerp(cf.B, ct.B, t), c = lerp(cf.R, ct.R, t);
  seg(a, b, gridColor, 1.4, 'z-gridline', g3d);
  seg(b, c, gridColor, 1.4, 'z-gridline', g3d);
});
const axisS0 = 0.055, axisStep = 0.14;
landscapeGyrateLabels.forEach((lab, k) => {
  const s = axisS0 + k * axisStep;
  const wallBottom = lerp(cf.L, cf.B, s), wallTop = lerp(ct.L, ct.B, s);
  seg(wallBottom, wallTop, gridColor, 1.4, 'gyrate-wall-gridline', g3d);
  seg(wallBottom, lerp(cf.F, cf.R, s + 0.015), gridColor, 1.4, 'gyrate-floor-gridline', g3d);
  const axisPoint = lerp(cf.F, cf.R, 0.07 + k * 0.1427);
  seg(lerp(axisPoint, cf.L, 0.03), lerp(axisPoint, cf.L, -0.008), '#000', 1.6, 'gyrate-tick', g3d);
  const label = el('text', {x: axisPoint[0] + 18, y: axisPoint[1] + 44, 'text-anchor': 'middle', 'font-size': 22}, g3d);
  
  
  label.textContent = lab;
});
landscapeRmsdLabels.forEach((lab, k) => {
  const s = axisS0 + k * axisStep;
  const wallBottom = lerp(cf.B, cf.R, s), wallTop = lerp(ct.B, ct.R, s);
  seg(wallBottom, wallTop, gridColor, 1.4, 'rmsd-wall-gridline', g3d);
  seg(wallBottom, lerp(cf.L, cf.F, s), gridColor, 1.4, 'rmsd-floor-gridline', g3d);
  const axisPoint = lerp(cf.L, cf.F, 0.051 + k * 0.14);
  seg(lerp(axisPoint, cf.B, 0.03), lerp(axisPoint, cf.B, -0.008), '#000', 1.6, 'rmsd-tick', g3d);
  const label = el('text', {x: axisPoint[0] - 15, y: axisPoint[1] + 44, 'text-anchor': 'middle', 'font-size': 22}, g3d);
  
  
  label.textContent = lab;
});
colorbarTicks.forEach(z => {
  const p = lerp(cf.R, ct.R, z / zAxisTop);
  seg([p[0] - 4, p[1] - 2], [p[0] + 8, p[1] + 3], '#000', 1.6, 'z-tick', g3d);
  const label = el('text', {x: p[0] + 37, y: p[1] + 15, 'text-anchor': 'middle', 'font-size': 22}, g3d);
  
  
  label.textContent = String(z);
});
seg(cf.L, cf.F, '#000', 2.4, 'rmsd-axis-line', g3d);
seg(cf.F, cf.R, '#000', 2.4, 'gyrate-axis-line', g3d);
seg(cf.R, ct.R, '#000', 2.4, 'z-axis-line', g3d);

/* floor contour */
const nRows = gibbsGrid.length, nCols = gibbsGrid[0].length;
const binWidth = 1.45;
const floorTopLevel = 14;
const backgroundBin = floorBinColors.length - 1;
poly([project(0, 0, 0), project(1, 0, 0), project(1, 1, 0), project(0, 1, 0)], floorBinColors[backgroundBin], 'none', 0, 'floor-contour-background', g3d);
const sub = 4;
function bilinearGrid(rf, cfv) {
  const r0 = Math.floor(rf), c0 = Math.floor(cfv);
  const a = rf - r0, b = cfv - c0;
  return (1 - a) * ((1 - b) * gridAt(r0, c0) + b * gridAt(r0, c0 + 1)) + a * ((1 - b) * gridAt(r0 + 1, c0) + b * gridAt(r0 + 1, c0 + 1));
}
for (let r = 0; r < (nRows - 1) * sub; r++) {
  let start = 0, runBin = backgroundBin;
  const closeRun = (end, bin) => {
    if (bin >= backgroundBin) return;
    const u0 = start / ((nCols - 1) * sub), u1 = end / ((nCols - 1) * sub);
    const v0 = 1 - r / ((nRows - 1) * sub), v1 = 1 - (r + 1) / ((nRows - 1) * sub);
    poly([project(u0, v0, 0), project(u1, v0, 0), project(u1, v1, 0), project(u0, v1, 0)], floorBinColors[bin], floorBinColors[bin], 0.5, 'floor-contour-cell', g3d);
  };
  for (let c = 0; c < (nCols - 1) * sub; c++) {
    const value = bilinearGrid((r + 0.5) / sub, (c + 0.5) / sub);
    const bin = value >= floorTopLevel ? backgroundBin : Math.min(backgroundBin - 1, Math.floor(value / binWidth));
    if (bin !== runBin) {
      closeRun(c, runBin);
      start = c;
      runBin = bin;
    }
  }
  closeRun((nCols - 1) * sub, runBin);
}

/* surface triangles, back to front */
const faces = [];
for (let r = 0; r < nRows - 1; r++) {
  for (let c = 0; c < nCols - 1; c++) {
    const node = (rr, cc) => {
      const raw = gridAt(rr, cc);
      return {u: cc / (nCols - 1), v: 1 - rr / (nRows - 1), z: raw > surfaceCapLevel ? gibbsMax : raw};
    };
    const a = node(r, c), b = node(r, c + 1), d = node(r + 1, c), e = node(r + 1, c + 1);
    faces.push([a, b, d]);
    faces.push([b, e, d]);
  }
}
const faceDepth = f => f.reduce((s, p) => s + p.u - p.v, 0) / 3;
faces.sort((f1, f2) => faceDepth(f1) - faceDepth(f2));
faces.forEach(f => {
  const avg = (f[0].z + f[1].z + f[2].z) / 3;
  const color = energyColor(avg);
  poly(f.map(p => project(p.u, p.v, p.z)), color, color, 0.5, 'surface-face', g3d);
});

/* 3D axis titles */
const rmsd3dTitle = el('text', {x: 617, y: 1587, 'text-anchor': 'middle', 'font-size': 25}, g3d);


rmsd3dTitle.textContent = 'RMSD';
const gyrate3dTitle = el('text', {x: 971, y: 1577, 'text-anchor': 'middle', 'font-size': 25, transform: 'rotate(-38 971 1577)'}, g3d);


gyrate3dTitle.textContent = 'Gyrate';
const z3dTitle = el('text', {x: 1134, y: 1311, 'text-anchor': 'middle', 'font-size': 25, transform: 'rotate(-90 1134 1311)'}, g3d);


z3dTitle.textContent = 'G (kJ/mol)';
</script>
</body>
</html>
